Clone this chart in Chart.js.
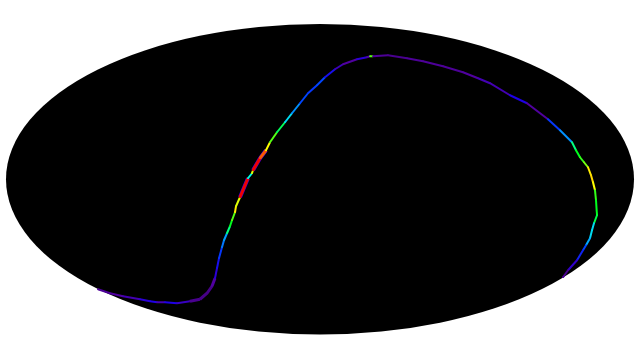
<!DOCTYPE html>
<html><head><meta charset="utf-8">
<style>html,body{margin:0;padding:0;background:#fff}canvas{display:block}</style>
<script src="https://cdn.jsdelivr.net/npm/chart.js@4"></script></head>
<body><canvas id="c" width="640" height="350"></canvas>
<script>
const projX=[-222,-210,-197,-180,-170,-163,-155,-143,-130,-120,-113,-108,-105,-103,-101,-98,-96,-93,-90,-88,-85,-84,-80,-75,-72,-68,-67,-60,-54,-50,-43,-35,-28,-20,-12,-3,5,15,23,37,47,50,53,68,87,103,123,143,158,170,190,207,228,240,252,256,260,264,268,271,273,275,276,277,274,272,270,266,263,257,248,243];
const projY=[-110,-114,-117,-120,-122,-123,-123,-124,-122,-120,-114,-107,-99,-89,-79,-68,-61,-54,-47,-41,-33,-27,-18,-6,1,6,9,21,29,37,47,57,66,76,86,94,102,110,115,120,122,123,123,124,121,118,113,107,101,96,84,76,60,49,37,29,22,17,12,4,-3,-11,-21,-36,-44,-51,-59,-66,-71,-81,-91,-98];
const level=[.1,.12,.14,.18,.2,.14,.2,.16,.08,.06,.06,.12,.18,.22,.28,.34,.37,.5,.55,.6,.72,.68,1,1,.45,.68,1,.88,.7,.6,.52,.42,.36,.3,.28,.3,.22,.15,.12,.18,.12,.6,.1,.08,.1,.1,.1,.12,.14,.14,.2,.12,.28,.36,.5,.55,.58,.62,.72,.74,.7,.58,.55,.53,.42,.42,.38,.3,.25,.17,.08,.12];
const extentX=[-314,314], extentY=[-155.25,155.25];
const stops=[[0,[60,0,110]],[.12,[80,0,160]],[.2,[30,0,230]],[.3,[0,70,255]],[.38,[0,170,255]],[.45,[0,255,230]],[.55,[0,255,30]],[.7,[255,255,0]],[.85,[255,110,0]],[1,[240,0,0]]];
function colour(v){for(let i=1;i<stops.length;i++){if(v<=stops[i][0]){const a=stops[i-1],b=stops[i],t=(v-a[0])/(b[0]-a[0]);return `rgb(${a[1].map((c,k)=>Math.round(c+(b[1][k]-c)*t)).join(',')})`}}return 'rgb(240,0,0)'}
const points=projX.map((v,i)=>({x:v,y:projY[i]}));
const hot=i=>level[i]>=.85;
const sky={id:'sky',beforeDatasetsDraw(ch){const {x,y}=ch.scales,g=ch.ctx;const cx=x.getPixelForValue(0),cy=y.getPixelForValue(0);g.save();g.fillStyle='#000';g.beginPath();g.ellipse(cx,cy,Math.abs(x.getPixelForValue(extentX[1])-cx),Math.abs(y.getPixelForValue(extentY[1])-cy),0,0,Math.PI*2);g.fill();g.restore()}};
new Chart(document.getElementById('c'),{type:'scatter',data:{datasets:[
{data:points,order:1,showLine:true,borderWidth:2,pointStyle:'rect',pointRadius:1.2,pointBorderWidth:0,pointBackgroundColor:level.map(colour),segment:{borderColor:c=>colour(level[c.p0DataIndex]),borderWidth:c=>(hot(c.p0DataIndex)||(c.p0DataIndex>=8&&c.p0DataIndex<=11))?3:2}},
{data:points,order:2,showLine:true,pointRadius:0,borderWidth:4,segment:{borderColor:c=>hot(c.p0DataIndex)?'rgb(40,0,220)':'rgba(0,0,0,0)'}}
]},
options:{responsive:false,animation:false,events:[],layout:{padding:{left:6,right:6,top:24,bottom:15.5}},plugins:{legend:{display:false},tooltip:{enabled:false}},scales:{x:{display:false,min:extentX[0],max:extentX[1]},y:{display:false,min:extentY[0],max:extentY[1]}}},plugins:[sky]});
</script></body></html>
